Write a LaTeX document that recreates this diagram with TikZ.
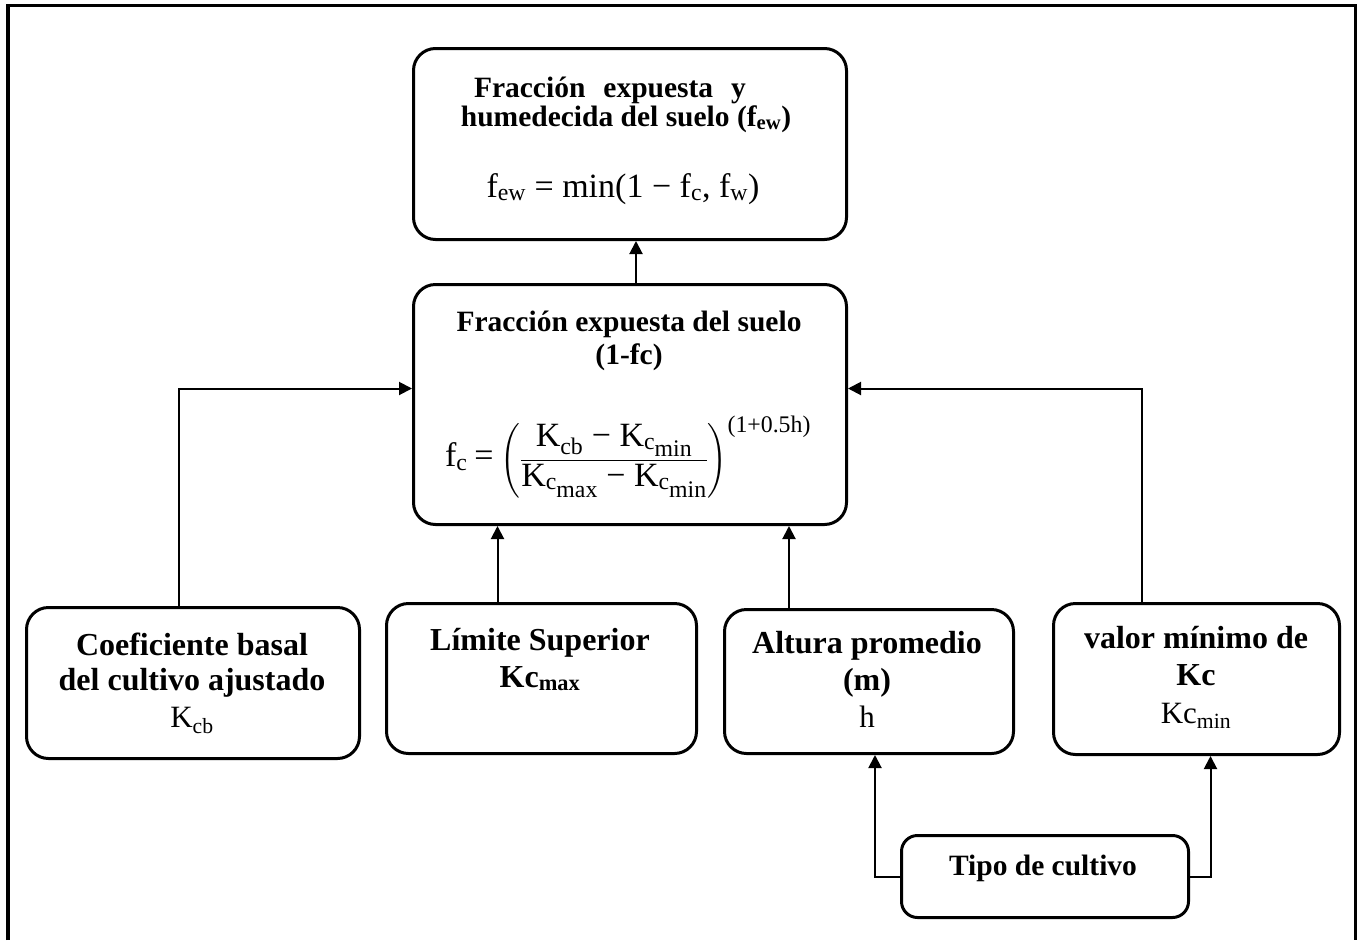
\documentclass[tikz,border=0pt]{standalone}
\usepackage{fontspec}
\setmainfont{Liberation Serif}
\usepackage{amsmath}
\usetikzlibrary{arrows.meta}
% K with a subscript that carries its own lowered subscript, e.g. K_{c_{min}}
\newcommand{\Kcsub}[1]{K\textsubscript{c\raisebox{-0.3em}{#1}}}
\begin{document}
\begin{tikzpicture}[x=1pt,y=-1pt,
  box/.style={draw, line width=3pt, rounded corners=22pt, anchor=north west, inner sep=0pt},
  ttl/.style={anchor=base, inner sep=0pt, font=\fontsize{29.5}{32}\selectfont\bfseries},
  big/.style={anchor=base, inner sep=0pt, font=\fontsize{32}{36}\selectfont\bfseries},
  frm/.style={anchor=base, inner sep=0pt, font=\fontsize{34}{36}\selectfont},
  sym/.style={anchor=base, inner sep=0pt, font=\fontsize{31}{34}\selectfont},
  link/.style={line width=2pt, -{Triangle[length=13pt,width=13pt]}}]
\useasboundingbox (0,0) rectangle (1363,940);

% outer frame, open at the bottom
\draw[line width=3.5pt] (8,940) -- (8,5.5) -- (1355.5,5.5) -- (1355.5,940);

% boxes
\node[box, minimum width=433pt, minimum height=191pt] (few)   at (412,47)  {};
\node[box, minimum width=433pt, minimum height=240pt] (fc)    at (412,283) {};
\node[box, minimum width=333pt, minimum height=151pt] (kcb)   at (25,606)  {};
\node[box, minimum width=310pt, minimum height=150pt] (kcmax) at (385,602) {};
\node[box, minimum width=289pt, minimum height=144pt] (hgt)   at (723,608) {};
\node[box, minimum width=286pt, minimum height=151pt] (kcmin) at (1052,602) {};
\node[box, minimum width=287pt, minimum height=82pt, rounded corners=16pt] (tipo) at (900,834) {};

% texts of the top box
\node[ttl] (few1) at (610,97) {\makebox[272pt][s]{Fracción expuesta y}};
\node[ttl] (few2) at (626,126) {humedecida del suelo (f\textsubscript{ew})};
\node[frm] (few3) at (623,197)
  {f\textsubscript{ew} = min(1 − f\textsubscript{c}, f\textsubscript{w})};

% texts of the middle box
\node[ttl] (fc1) at (629,331) {Fracción expuesta del suelo};
\node[ttl] (fc2) at (629,364) {(1-fc)};
\node[frm, anchor=center] (fc3) at (628,457)
  {$\text{f\textsubscript{c}} \mathrel{\text{=}}
    \left(\dfrac{\text{K\textsubscript{cb} − \Kcsub{min}}}
                {\text{\Kcsub{max} − \Kcsub{min}}}\right)^{\text{(1+0.5h)}}$};

% texts of the lower boxes
\node[big] (kcb1) at (192,655) {Coeficiente basal};
\node[big] (kcb2) at (192,690) {del cultivo ajustado};
\node[sym] (kcb3) at (192,727) {K\textsubscript{cb}};

\node[big] (kmx1) at (540,650) {Límite Superior};
\node[big] (kmx2) at (540,687) {Kc\textsubscript{max}};

\node[big] (hgt1) at (867,653) {Altura promedio};
\node[big] (hgt2) at (867,690) {(m)};
\node[sym] (hgt3) at (867,727) {h};

\node[big] (kmn1) at (1196,648) {valor mínimo de};
\node[big] (kmn2) at (1196,685) {Kc};
\node[sym] (kmn3) at (1196,723) {Kc\textsubscript{min}};

\node[ttl] (tipo1) at (1043,875) {Tipo de cultivo};

% connectors
\draw[link] ([xshift=6pt]fc.north) -- ([xshift=6pt]few.south);
\draw[link] ([xshift=-14pt]kcb.north) |- ([yshift=16pt]fc.west);
\draw[link] ([xshift=-44pt]kcmax.north) -- ([xshift=-44pt]kcmax.north |- fc.south);
\draw[link] ([xshift=-80pt]hgt.north) -- ([xshift=-80pt]hgt.north |- fc.south);
\draw[link] ([xshift=-55pt]kcmin.north) |- ([yshift=16pt]fc.east);
\draw[link] (tipo.west) -| ([xshift=6pt]hgt.south);
\draw[link] (tipo.east) -| ([xshift=14pt]kcmin.south);
\end{tikzpicture}
\end{document}
